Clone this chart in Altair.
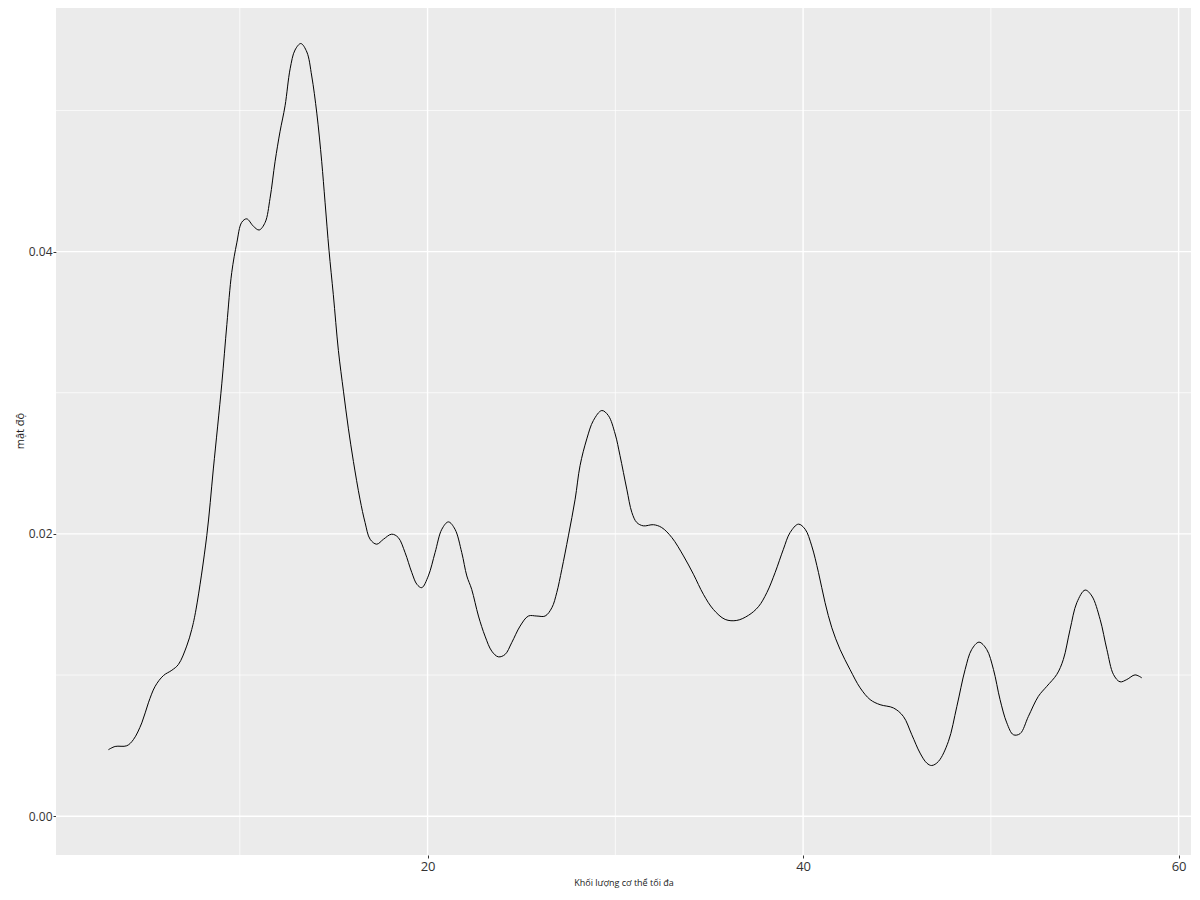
import pandas as pd
import altair as alt

# density curve (x = max body mass, y = density)
mass = [
    3.00, 3.36, 3.98, 4.33, 4.78, 5.13, 5.49, 5.93, 6.38, 6.73, 7.17, 7.44, 7.67,
    8.24, 8.59, 9.04, 9.31, 9.57, 9.84, 10.10, 10.37, 10.72, 11.03, 11.35, 11.61,
    11.88, 12.14, 12.41, 12.68, 12.94, 13.25, 13.57, 13.83, 14.10, 14.36, 14.54,
    14.75, 14.98, 15.25, 15.52, 15.78, 16.05, 16.40, 16.67, 16.94, 17.29, 17.65,
    18.09, 18.44, 18.80, 19.16, 19.43, 19.69, 20.04, 20.40, 20.76, 21.11, 21.46,
    21.82, 22.09, 22.35, 22.71, 23.06, 23.42, 23.77, 24.13, 24.48, 24.93, 25.37,
    25.82, 26.26, 26.62, 26.88, 27.15, 27.50, 27.86, 28.12, 28.48, 28.83, 29.28,
    29.63, 29.99, 30.25, 30.61, 30.88, 31.14, 31.49, 32.03, 32.47, 33.01, 33.63,
    34.16, 34.69, 35.22, 35.85, 36.47, 37.09, 37.62, 38.07, 38.51, 38.95, 39.31,
    39.75, 40.11, 40.46, 40.82, 41.17, 41.53, 41.97, 42.50, 43.04, 43.57, 44.10,
    44.81, 45.34, 45.79, 46.23, 46.59, 46.85, 47.21, 47.74, 48.19, 48.63, 48.98,
    49.37, 49.78, 50.14, 50.49, 50.85, 51.20, 51.56, 52.00, 52.53, 52.98, 53.51,
    53.86, 54.22, 54.58, 55.02, 55.38, 55.82, 56.18, 56.53, 56.88, 57.24, 57.68,
    58.04,
]
density = [
    0.00471, 0.00494, 0.00499, 0.00542, 0.00661, 0.00803, 0.00920, 0.00996,
    0.01034, 0.01075, 0.01205, 0.01323, 0.01467, 0.01987, 0.02460, 0.03063,
    0.03484, 0.03852, 0.04062, 0.04207, 0.04232, 0.04180, 0.04153, 0.04207,
    0.04377, 0.04640, 0.04849, 0.05033, 0.05295, 0.05428, 0.05474, 0.05414,
    0.05244, 0.04981, 0.04640, 0.04350, 0.04009, 0.03695, 0.03300, 0.03011,
    0.02749, 0.02513, 0.02246, 0.02081, 0.01962, 0.01927, 0.01962, 0.01998,
    0.01974, 0.01868, 0.01726, 0.01643, 0.01619, 0.01702, 0.01868, 0.02033,
    0.02085, 0.02033, 0.01868, 0.01702, 0.01607, 0.01418, 0.01276, 0.01169,
    0.01129, 0.01146, 0.01229, 0.01347, 0.01418, 0.01418, 0.01418, 0.01477,
    0.01584, 0.01749, 0.01986, 0.02246, 0.02483, 0.02673, 0.02803, 0.02874,
    0.02838, 0.02708, 0.02554, 0.02317, 0.02152, 0.02081, 0.02057, 0.02065,
    0.02045, 0.01974, 0.01844, 0.01714, 0.01572, 0.01465, 0.01394, 0.01387,
    0.01423, 0.01484, 0.01584, 0.01726, 0.01891, 0.02010, 0.02069, 0.02033,
    0.01915, 0.01726, 0.01513, 0.01335, 0.01181, 0.01039, 0.00909, 0.00826,
    0.00790, 0.00767, 0.00707, 0.00577, 0.00447, 0.00376, 0.00359, 0.00388,
    0.00530, 0.00778, 0.01039, 0.01181, 0.01233, 0.01181, 0.01039, 0.00826,
    0.00661, 0.00577, 0.00585, 0.00707, 0.00849, 0.00920, 0.01004, 0.01110,
    0.01323, 0.01513, 0.01602, 0.01560, 0.01394, 0.01181, 0.01004, 0.00952,
    0.00968, 0.01001, 0.00980,
]

x_major = [20, 40, 60]
x_minor = [10, 30, 50]
y_major = [0.00, 0.02, 0.04]
y_minor = [0.01, 0.03, 0.05]

x_title = "Khối lượng cơ thể tối đa"
y_title = "mật độ"

x_domain = [0.21, 60.66]
y_domain = [-0.00275, 0.0574]

FONT = "Open Sans"

df = pd.DataFrame({"mass": mass, "density": density})
xs = alt.Scale(domain=x_domain, nice=False, zero=False)
ys = alt.Scale(domain=y_domain, nice=False, zero=False)


def vrules(values, width):
    return alt.Chart(pd.DataFrame({"v": values})).mark_rule(
        color="white", strokeWidth=width
    ).encode(x=alt.X("v:Q", scale=xs))


def hrules(values, width):
    return alt.Chart(pd.DataFrame({"v": values})).mark_rule(
        color="white", strokeWidth=width
    ).encode(y=alt.Y("v:Q", scale=ys))


line = alt.Chart(df).mark_line(
    color="black", strokeWidth=1.0, interpolate="catmull-rom"
).encode(
    x=alt.X(
        "mass:Q", scale=xs, title=x_title,
        axis=alt.Axis(values=x_major, format="d", labelFontSize=13,
                      labelPadding=2, titlePadding=5, titleFontSize=9)
    ),
    y=alt.Y(
        "density:Q", scale=ys, title=y_title,
        axis=alt.Axis(values=y_major, format=".2f", labelFontSize=12,
                      labelPadding=1, titlePadding=3, titleFontSize=11)
    ),
)

chart = alt.layer(
    vrules(x_minor, 0.7), hrules(y_minor, 0.7),
    vrules(x_major, 1.4), hrules(y_major, 1.4),
    line,
).properties(
    width=1135,
    height=849,
    autosize=alt.AutoSizeParams(type="none"),
    padding={"left": 48, "top": -2, "right": 0, "bottom": 33},
).configure_view(
    fill="#EBEBEB", strokeWidth=0
).configure_axis(
    grid=False, domain=False, tickColor="#333333", tickSize=3,
    labelColor="#333333", labelFont=FONT, titleFont=FONT,
    titleFontWeight="normal", titleColor="#222222",
)

chart.save("out.html", embed_options={"renderer": "svg", "actions": False})
